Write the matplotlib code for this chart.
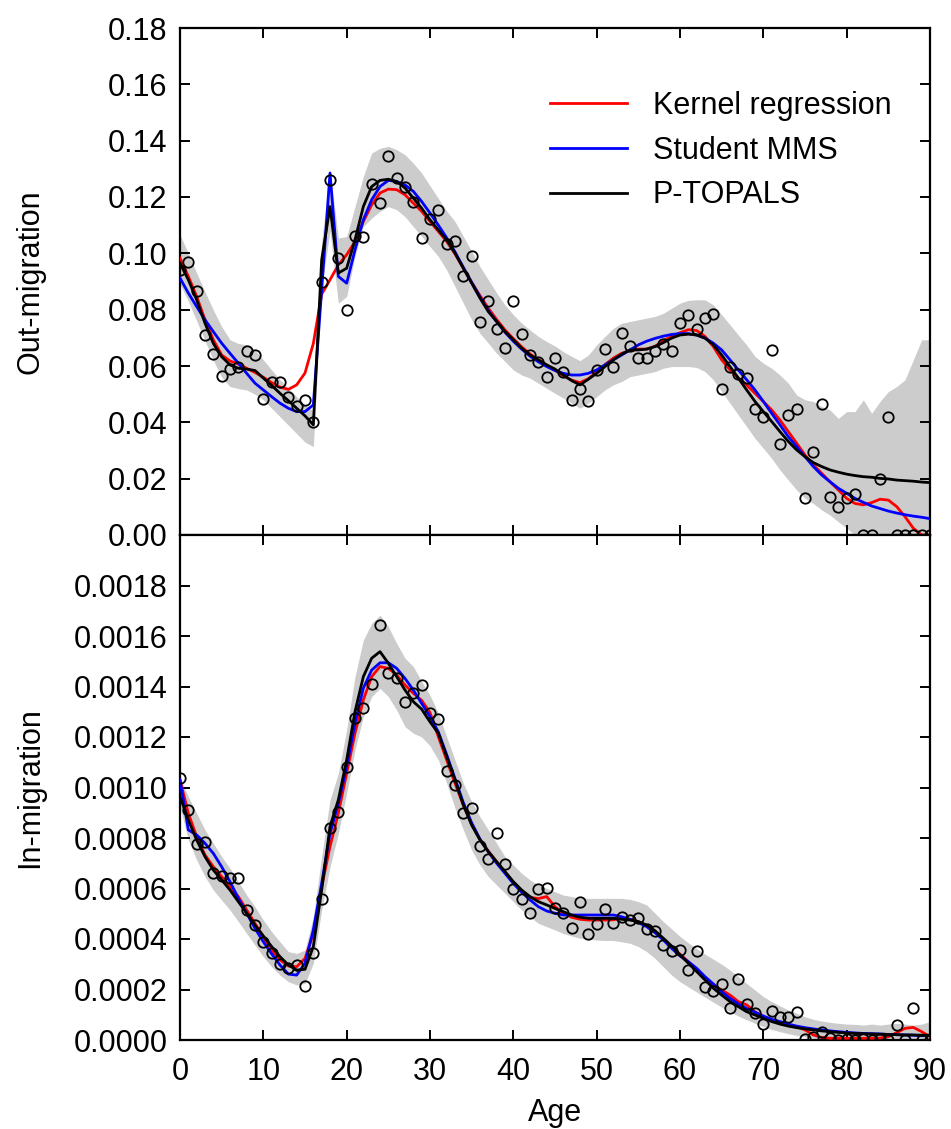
import matplotlib
matplotlib.use("Agg")
import matplotlib.pyplot as plt
from matplotlib.ticker import FormatStrFormatter, MultipleLocator
import numpy as np

plt.rcParams['font.family'] = ['Liberation Sans', 'DejaVu Sans']

ages = list(range(0, 91))

# ---------------- Out-migration (top panel) ----------------
out_obs = [0.0941, 0.0971, 0.0867, 0.0710, 0.0642, 0.0566, 0.0591, 0.0596, 0.0652, 0.0640,
           0.0482, 0.0543, 0.0543, 0.0489, 0.0459, 0.0480, 0.0400, 0.0900, 0.1261, 0.0983,
           0.0800, 0.1060, 0.1058, 0.1246, 0.1178, 0.1346, 0.1267, 0.1235, 0.1182, 0.1054,
           0.1123, 0.1155, 0.1033, 0.1045, 0.0921, 0.0991, 0.0756, 0.0832, 0.0732, 0.0663,
           0.0831, 0.0713, 0.0639, 0.0613, 0.0562, 0.0628, 0.0580, 0.0480, 0.0518, 0.0477,
           0.0586, 0.0661, 0.0598, 0.0716, 0.0671, 0.0628, 0.0628, 0.0655, 0.0679, 0.0655,
           0.0754, 0.0782, 0.0731, 0.0772, 0.0785, 0.0518, 0.0596, 0.0572, 0.0559, 0.0448,
           0.0418, 0.0657, 0.0323, 0.0426, 0.0447, 0.0130, 0.0294, 0.0465, 0.0136, 0.0101,
           0.0130, 0.0146, 0.0000, 0.0000, 0.0199, 0.0420, 0.0000, 0.0000, 0.0000, 0.0000,
           0.0000]

out_kernel = [0.0983, 0.0918, 0.0847, 0.0764, 0.0693, 0.0639, 0.0618, 0.0607, 0.0592, 0.0577,
              0.0560, 0.0541, 0.0525, 0.0517, 0.0533, 0.0575, 0.0680, 0.0855, 0.0906, 0.0959,
              0.0995, 0.1042, 0.1113, 0.1172, 0.1214, 0.1228, 0.1226, 0.1208, 0.1178, 0.1149,
              0.1113, 0.1078, 0.1042, 0.0998, 0.0947, 0.0897, 0.0850, 0.0805, 0.0765, 0.0728,
              0.0697, 0.0668, 0.0643, 0.0622, 0.0603, 0.0585, 0.0565, 0.0550, 0.0541, 0.0555,
              0.0578, 0.0605, 0.0628, 0.0645, 0.0655, 0.0660, 0.0660, 0.0670, 0.0690, 0.0705,
              0.0718, 0.0729, 0.0726, 0.0705, 0.0669, 0.0622, 0.0586, 0.0557, 0.0533, 0.0503,
              0.0474, 0.0444, 0.0408, 0.0367, 0.0326, 0.0284, 0.0249, 0.0219, 0.0189, 0.0160,
              0.0130, 0.0112, 0.0107, 0.0115, 0.0127, 0.0124, 0.0101, 0.0065, 0.0024, 0.0000,
              0.0000]

out_mms = [0.0912, 0.0859, 0.0811, 0.0764, 0.0722, 0.0681, 0.0645, 0.0610, 0.0574, 0.0539,
           0.0515, 0.0491, 0.0468, 0.0450, 0.0438, 0.0438, 0.0462, 0.0870, 0.1285, 0.0918,
           0.0894, 0.1012, 0.1119, 0.1190, 0.1237, 0.1259, 0.1255, 0.1243, 0.1220, 0.1184,
           0.1143, 0.1100, 0.1055, 0.1005, 0.0950, 0.0897, 0.0845, 0.0797, 0.0757, 0.0720,
           0.0688, 0.0660, 0.0635, 0.0615, 0.0598, 0.0584, 0.0574, 0.0568, 0.0568, 0.0574,
           0.0586, 0.0604, 0.0622, 0.0639, 0.0657, 0.0675, 0.0688, 0.0698, 0.0706, 0.0712,
           0.0715, 0.0715, 0.0710, 0.0699, 0.0681, 0.0657, 0.0622, 0.0586, 0.0551, 0.0515,
           0.0474, 0.0432, 0.0391, 0.0349, 0.0314, 0.0278, 0.0243, 0.0213, 0.0189, 0.0166,
           0.0148, 0.0130, 0.0116, 0.0103, 0.0094, 0.0085, 0.0078, 0.0072, 0.0067, 0.0063,
           0.0058]

out_topals = [0.0965, 0.0906, 0.0835, 0.0752, 0.0680, 0.0633, 0.0604, 0.0592, 0.0589, 0.0584,
              0.0557, 0.0531, 0.0503, 0.0477, 0.0450, 0.0423, 0.0391, 0.0977, 0.1166, 0.0930,
              0.0947, 0.1048, 0.1166, 0.1237, 0.1259, 0.1263, 0.1255, 0.1232, 0.1196, 0.1160,
              0.1119, 0.1083, 0.1048, 0.1001, 0.0947, 0.0894, 0.0841, 0.0793, 0.0758, 0.0722,
              0.0693, 0.0663, 0.0639, 0.0622, 0.0604, 0.0589, 0.0568, 0.0548, 0.0533, 0.0553,
              0.0574, 0.0598, 0.0622, 0.0642, 0.0657, 0.0657, 0.0660, 0.0669, 0.0683, 0.0699,
              0.0710, 0.0713, 0.0710, 0.0699, 0.0675, 0.0639, 0.0598, 0.0557, 0.0515, 0.0474,
              0.0438, 0.0403, 0.0367, 0.0332, 0.0302, 0.0278, 0.0257, 0.0243, 0.0231, 0.0223,
              0.0216, 0.0211, 0.0207, 0.0205, 0.0201, 0.0199, 0.0195, 0.0193, 0.0191, 0.0188,
              0.0186]

out_upper = [0.1066, 0.1000, 0.0930, 0.0864, 0.0799, 0.0740, 0.0693, 0.0680, 0.0675, 0.0657,
             0.0622, 0.0586, 0.0551, 0.0521, 0.0491, 0.0462, 0.0440, 0.1040, 0.1300, 0.1054,
             0.1060, 0.1166, 0.1273, 0.1356, 0.1373, 0.1380, 0.1368, 0.1350, 0.1320, 0.1285,
             0.1240, 0.1195, 0.1150, 0.1113, 0.1060, 0.1007, 0.0953, 0.0906, 0.0859, 0.0817,
             0.0782, 0.0752, 0.0728, 0.0705, 0.0687, 0.0671, 0.0651, 0.0634, 0.0619, 0.0639,
             0.0675, 0.0705, 0.0734, 0.0752, 0.0758, 0.0764, 0.0770, 0.0776, 0.0787, 0.0805,
             0.0823, 0.0833, 0.0835, 0.0835, 0.0817, 0.0782, 0.0746, 0.0710, 0.0675, 0.0634,
             0.0610, 0.0592, 0.0568, 0.0539, 0.0497, 0.0480, 0.0474, 0.0456, 0.0444, 0.0414,
             0.0438, 0.0438, 0.0480, 0.0432, 0.0474, 0.0509, 0.0527, 0.0551, 0.0622, 0.0693,
             0.0693]

out_lower = [0.0890, 0.0830, 0.0760, 0.0690, 0.0620, 0.0560, 0.0527, 0.0520, 0.0515, 0.0500,
             0.0480, 0.0450, 0.0420, 0.0390, 0.0360, 0.0330, 0.0314, 0.0880, 0.1080, 0.0823,
             0.0847, 0.0990, 0.1095, 0.1125, 0.1149, 0.1166, 0.1155, 0.1130, 0.1095, 0.1060,
             0.1024, 0.0989, 0.0941, 0.0882, 0.0823, 0.0764, 0.0716, 0.0681, 0.0645, 0.0616,
             0.0586, 0.0568, 0.0557, 0.0539, 0.0521, 0.0503, 0.0486, 0.0468, 0.0450, 0.0468,
             0.0491, 0.0515, 0.0533, 0.0545, 0.0562, 0.0568, 0.0574, 0.0580, 0.0592, 0.0598,
             0.0598, 0.0598, 0.0595, 0.0580, 0.0551, 0.0509, 0.0468, 0.0426, 0.0385, 0.0343,
             0.0308, 0.0272, 0.0231, 0.0195, 0.0160, 0.0130, 0.0112, 0.0089, 0.0071, 0.0047,
             0.0024, 0.0000, 0.0000, 0.0000, 0.0000, 0.0000, 0.0000, 0.0000, 0.0000, 0.0000,
             0.0000]

# ---------------- In-migration (bottom panel) ----------------
in_obs = [0.001036, 0.000911, 0.000776, 0.000783, 0.000660, 0.000650, 0.000640, 0.000643, 0.000515, 0.000455,
          0.000390, 0.000346, 0.000300, 0.000284, 0.000297, 0.000214, 0.000343, 0.000558, 0.000838, 0.000904,
          0.001083, 0.001274, 0.001316, 0.001409, 0.001644, 0.001452, 0.001435, 0.001340, 0.001376, 0.001406,
          0.001294, 0.001270, 0.001065, 0.001010, 0.000900, 0.000917, 0.000770, 0.000717, 0.000818, 0.000696,
          0.000600, 0.000558, 0.000502, 0.000600, 0.000603, 0.000521, 0.000504, 0.000442, 0.000548, 0.000419,
          0.000458, 0.000517, 0.000462, 0.000488, 0.000475, 0.000484, 0.000440, 0.000432, 0.000376, 0.000354,
          0.000356, 0.000277, 0.000352, 0.000211, 0.000194, 0.000220, 0.000128, 0.000240, 0.000141, 0.000108,
          0.000062, 0.000115, 0.000092, 0.000092, 0.000112, 0.000005, 0.000010, 0.000030, 0.000008, 0.000000,
          0.000005, 0.000000, 0.000003, 0.000000, 0.000002, 0.000000, 0.000059, 0.000000, 0.000128, 0.000000,
          0.000000]

in_kernel = [0.001030, 0.000898, 0.000805, 0.000733, 0.000686, 0.000647, 0.000607, 0.000568, 0.000515, 0.000462,
             0.000409, 0.000356, 0.000317, 0.000293, 0.000290, 0.000323, 0.000422, 0.000607, 0.000766, 0.000898,
             0.001056, 0.001215, 0.001347, 0.001439, 0.001479, 0.001472, 0.001446, 0.001406, 0.001373, 0.001345,
             0.001297, 0.001201, 0.001109, 0.001017, 0.000930, 0.000855, 0.000795, 0.000748, 0.000706, 0.000665,
             0.000625, 0.000590, 0.000565, 0.000560, 0.000568, 0.000528, 0.000502, 0.000486, 0.000478, 0.000475,
             0.000475, 0.000475, 0.000476, 0.000482, 0.000478, 0.000469, 0.000452, 0.000430, 0.000400, 0.000370,
             0.000340, 0.000310, 0.000277, 0.000244, 0.000218, 0.000198, 0.000178, 0.000152, 0.000139, 0.000112,
             0.000092, 0.000079, 0.000069, 0.000059, 0.000053, 0.000040, 0.000020, 0.000010, 0.000007, 0.000007,
             0.000007, 0.000007, 0.000007, 0.000007, 0.000008, 0.000013, 0.000029, 0.000046, 0.000050, 0.000033,
             0.000013]

in_mms = [0.001030, 0.000832, 0.000812, 0.000779, 0.000739, 0.000686, 0.000627, 0.000561, 0.000502, 0.000442,
          0.000389, 0.000341, 0.000297, 0.000261, 0.000257, 0.000304, 0.000436, 0.000620, 0.000818, 0.000937,
          0.001083, 0.001254, 0.001393, 0.001465, 0.001494, 0.001494, 0.001472, 0.001432, 0.001386, 0.001333,
          0.001281, 0.001220, 0.001130, 0.001035, 0.000940, 0.000860, 0.000795, 0.000745, 0.000700, 0.000660,
          0.000620, 0.000585, 0.000555, 0.000528, 0.000511, 0.000502, 0.000495, 0.000495, 0.000495, 0.000495,
          0.000495, 0.000495, 0.000495, 0.000488, 0.000478, 0.000465, 0.000449, 0.000425, 0.000396, 0.000363,
          0.000333, 0.000310, 0.000284, 0.000251, 0.000222, 0.000191, 0.000165, 0.000143, 0.000125, 0.000110,
          0.000095, 0.000082, 0.000073, 0.000063, 0.000055, 0.000049, 0.000044, 0.000040, 0.000036, 0.000033,
          0.000030, 0.000028, 0.000026, 0.000025, 0.000024, 0.000022, 0.000021, 0.000020, 0.000019, 0.000017,
          0.000017]

in_topals = [0.000964, 0.000871, 0.000792, 0.000726, 0.000673, 0.000634, 0.000594, 0.000548, 0.000502, 0.000455,
             0.000412, 0.000370, 0.000330, 0.000297, 0.000277, 0.000280, 0.000370, 0.000594, 0.000845, 0.000951,
             0.001109, 0.001300, 0.001439, 0.001512, 0.001538, 0.001492, 0.001439, 0.001386, 0.001340, 0.001310,
             0.001260, 0.001215, 0.001122, 0.001030, 0.000931, 0.000851, 0.000792, 0.000746, 0.000706, 0.000667,
             0.000627, 0.000594, 0.000568, 0.000548, 0.000535, 0.000521, 0.000508, 0.000495, 0.000486, 0.000482,
             0.000482, 0.000482, 0.000482, 0.000478, 0.000475, 0.000469, 0.000455, 0.000433, 0.000403, 0.000372,
             0.000337, 0.000304, 0.000271, 0.000238, 0.000205, 0.000178, 0.000152, 0.000132, 0.000112, 0.000099,
             0.000086, 0.000073, 0.000063, 0.000055, 0.000049, 0.000044, 0.000040, 0.000036, 0.000033, 0.000030,
             0.000028, 0.000026, 0.000025, 0.000024, 0.000023, 0.000022, 0.000021, 0.000020, 0.000020, 0.000019,
             0.000019]

in_upper = [0.001040, 0.000964, 0.000898, 0.000832, 0.000779, 0.000726, 0.000680, 0.000627, 0.000574, 0.000528,
            0.000475, 0.000429, 0.000389, 0.000350, 0.000343, 0.000356, 0.000488, 0.000726, 0.000951, 0.001056,
            0.001228, 0.001439, 0.001584, 0.001650, 0.001683, 0.001637, 0.001571, 0.001512, 0.001479, 0.001420,
            0.001365, 0.001294, 0.001201, 0.001109, 0.001017, 0.000944, 0.000884, 0.000832, 0.000779, 0.000726,
            0.000693, 0.000660, 0.000634, 0.000614, 0.000601, 0.000587, 0.000574, 0.000568, 0.000561, 0.000561,
            0.000561, 0.000561, 0.000561, 0.000561, 0.000557, 0.000548, 0.000535, 0.000502, 0.000469, 0.000440,
            0.000410, 0.000385, 0.000362, 0.000340, 0.000320, 0.000300, 0.000277, 0.000251, 0.000224, 0.000198,
            0.000172, 0.000152, 0.000135, 0.000119, 0.000106, 0.000092, 0.000082, 0.000075, 0.000070, 0.000066,
            0.000063, 0.000062, 0.000059, 0.000063, 0.000059, 0.000063, 0.000066, 0.000063, 0.000059, 0.000063,
            0.000073]

in_lower = [0.000924, 0.000792, 0.000713, 0.000647, 0.000594, 0.000554, 0.000515, 0.000469, 0.000422, 0.000376,
            0.000330, 0.000290, 0.000257, 0.000231, 0.000218, 0.000224, 0.000304, 0.000515, 0.000686, 0.000818,
            0.000977, 0.001149, 0.001281, 0.001360, 0.001393, 0.001360, 0.001307, 0.001241, 0.001215, 0.001200,
            0.001165, 0.001109, 0.001017, 0.000918, 0.000832, 0.000752, 0.000693, 0.000647, 0.000614, 0.000581,
            0.000548, 0.000515, 0.000488, 0.000462, 0.000449, 0.000436, 0.000422, 0.000412, 0.000403, 0.000399,
            0.000396, 0.000394, 0.000394, 0.000389, 0.000383, 0.000370, 0.000350, 0.000323, 0.000290, 0.000257,
            0.000231, 0.000210, 0.000190, 0.000170, 0.000150, 0.000130, 0.000112, 0.000095, 0.000080, 0.000066,
            0.000053, 0.000042, 0.000033, 0.000025, 0.000018, 0.000012, 0.000007, 0.000003, 0.000000, 0.000000,
            0.000000, 0.000000, 0.000000, 0.000000, 0.000000, 0.000000, 0.000000, 0.000000, 0.000000, 0.000000,
            0.000000]

series_labels = ["Kernel regression", "Student MMS", "P-TOPALS"]
series_colors = ["#ff0000", "#0000ff", "#000000"]
x_ticks = [0, 10, 20, 30, 40, 50, 60, 70, 80, 90]

fig = plt.figure(figsize=(9.51, 11.29), dpi=100)
L, R = 180 / 951, 930 / 951
y_top = 1 - 28 / 1129
y_mid = 1 - 535 / 1129
y_bot = 1 - 1040 / 1129
ax1 = fig.add_axes([L, y_mid, R - L, y_top - y_mid])
ax2 = fig.add_axes([L, y_bot, R - L, y_mid - y_bot], sharex=ax1)

FS = 22
band_color = "#cccccc"

def style(ax):
    for s in ax.spines.values():
        s.set_linewidth(1.6)
    ax.tick_params(direction="in", top=True, right=True, length=7, width=1.4,
                   labelsize=FS, pad=9)
    ax.set_xlim(0, 90)
    ax.set_xticks(x_ticks)

# top panel
ax1.fill_between(ages, out_lower, out_upper, color=band_color, lw=0, zorder=1)
for vals, lab, col in zip([out_kernel, out_mms, out_topals], series_labels, series_colors):
    ax1.plot(ages, vals, color=col, lw=2.0, label=lab, zorder=3)
ax1.plot(ages, out_obs, linestyle="none", marker="o", markersize=7.5,
         markerfacecolor="none", markeredgecolor="black", markeredgewidth=1.3, zorder=4)
ax1.set_ylim(0, 0.18)
ax1.yaxis.set_major_locator(MultipleLocator(0.02))
ax1.yaxis.set_major_formatter(FormatStrFormatter("%.2f"))
style(ax1)
ax1.tick_params(labelbottom=False)
ax1.set_ylabel("Out-migration", fontsize=FS)
ax1.yaxis.set_label_coords(-0.18, 0.5)
leg = ax1.legend(loc="upper right", bbox_to_anchor=(0.985, 0.93), frameon=False,
                 fontsize=FS, handlelength=2.5, handletextpad=0.85, labelspacing=0.48)

# bottom panel
ax2.fill_between(ages, in_lower, in_upper, color=band_color, lw=0, zorder=1)
for vals, lab, col in zip([in_kernel, in_mms, in_topals], series_labels, series_colors):
    ax2.plot(ages, vals, color=col, lw=2.0, label=lab, zorder=3)
ax2.plot(ages, in_obs, linestyle="none", marker="o", markersize=7.5,
         markerfacecolor="none", markeredgecolor="black", markeredgewidth=1.3, zorder=4)
ax2.set_ylim(0, 0.002)
ax2.set_yticks([0.0, 0.0002, 0.0004, 0.0006, 0.0008, 0.0010, 0.0012, 0.0014, 0.0016, 0.0018])
ax2.yaxis.set_major_formatter(FormatStrFormatter("%.4f"))
style(ax2)
ax2.tick_params(axis="x", pad=12)
ax2.set_xlabel("Age", fontsize=FS, labelpad=8)
ax2.set_ylabel("In-migration", fontsize=FS)
ax2.yaxis.set_label_coords(-0.18, 0.5)

fig.savefig("out.png", dpi=100)
